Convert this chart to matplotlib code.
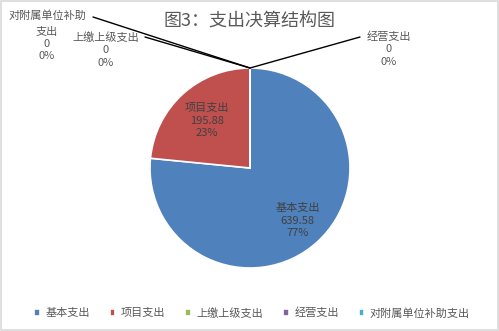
import matplotlib
matplotlib.use("Agg")
import matplotlib.pyplot as plt
import numpy as np
from matplotlib.patches import Rectangle

plt.rcParams['font.family'] = ['Noto Sans CJK SC', 'DejaVu Sans']

categories = ['基本支出', '项目支出', '上缴上级支出', '经营支出', '对附属单位补助支出']
values = [639.58, 195.88, 0, 0, 0]
value_labels = ['639.58', '195.88', '0', '0', '0']
pct_labels = ['77%', '23%', '0%', '0%', '0%']
colors = ['#4F81BD', '#C0504D', '#9BBB59', '#8064A2', '#4BACC6']
title = '图3：支出决算结构图'

W, H = 499, 331
fig = plt.figure(figsize=(W / 100, H / 100), dpi=100)
fig.patches.append(Rectangle((0.002, 0.003), 0.995, 0.993, transform=fig.transFigure,
                             fill=False, edgecolor='#D9D9D9', linewidth=1.2))

cx, cy, r = 250, 168, 100
ax = fig.add_axes([(cx - r) / W, (H - cy - r) / H, 2 * r / W, 2 * r / H])
wedges, _ = ax.pie(values, colors=colors, startangle=90, counterclock=False,
                   wedgeprops=dict(edgecolor='white', linewidth=1.2))
ax.set_xlim(-1, 1)
ax.set_ylim(-1, 1)
ax.set_aspect('auto')
ax.axis('off')

fig.text(250 / W, 1 - 21 / H, title, ha='center', va='center', fontsize=13, color='#595959')

# inside labels
inside = {0: 0.71, 1: 0.64}
for i, dist in inside.items():
    w = wedges[i]
    ang = np.deg2rad((w.theta1 + w.theta2) / 2)
    ax.text(dist * np.cos(ang), dist * np.sin(ang),
            f"{categories[i]}\n{value_labels[i]}\n{pct_labels[i]}",
            ha='center', va='center', fontsize=8, color='#404040', linespacing=1.3)

# outside labels with leader lines
top = (0, 1)
outs = [
    ((389, 49), (360, 37), [f"{categories[3]}\n{value_labels[3]}\n{pct_labels[3]}"]),
    ((106, 50), (145, 37), [f"{categories[2]}\n{value_labels[2]}\n{pct_labels[2]}"]),
    ((47, 44), (93, 17), [categories[4][:-2], categories[4][-2:] + f"\n{value_labels[4]}\n{pct_labels[4]}"]),
]
for (tx, ty), (lx, ly), parts in outs:
    if len(parts) == 1:
        fig.text(tx / W, 1 - ty / H, parts[0], ha='center', va='center', fontsize=8,
                 color='#595959', linespacing=1.3)
    else:
        fig.text(tx / W, 1 - 16 / H, parts[0], ha='center', va='center', fontsize=8,
                 color='#595959')
        fig.text(tx / W, 1 - ty / H, parts[1], ha='center', va='center', fontsize=8,
                 color='#595959', linespacing=1.3)
    ax.annotate('', xy=top, xycoords='data',
                xytext=(lx / W, 1 - ly / H), textcoords='figure fraction',
                arrowprops=dict(arrowstyle='-', color='black', lw=1.0,
                                shrinkA=0, shrinkB=0))

fig.legend(wedges, categories, loc='center', bbox_to_anchor=(252 / W, 1 - 313 / H),
           ncol=5, frameon=False, fontsize=8, handlelength=0.5, handleheight=0.5,
           handletextpad=0.5, columnspacing=1.8, labelcolor='#595959')

fig.savefig('out.png', dpi=100)
